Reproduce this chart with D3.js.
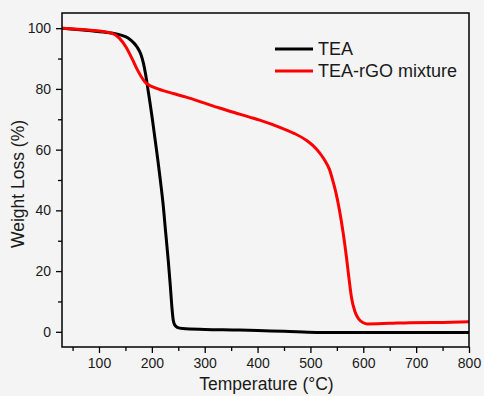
<!DOCTYPE html>
<html>
<head>
<meta charset="utf-8">
<script src="https://cdn.jsdelivr.net/npm/d3@7"></script>
<style>
html,body{margin:0;padding:0;background:#f4f4f4;}
svg{display:block;font-family:"Liberation Sans",Arial,sans-serif;}
</style>
</head>
<body>
<svg id="chart" width="484" height="396"></svg>
<script>
// Data
const teaTemp = [30, 80, 120, 140, 155, 165, 172, 179, 184, 188, 192, 196, 201, 206, 211, 216, 221, 226, 231, 235, 238, 240.5, 243, 248, 258, 300, 366, 400, 450, 512, 600, 700, 800];
const teaWeight = [100, 99.2, 98.5, 97.8, 96.8, 95.3, 93.8, 91.5, 88.5, 85, 80.5, 76, 70, 63.5, 57, 50, 42.5, 33, 23.5, 15, 8, 3.8, 2.3, 1.5, 1.1, 0.8, 0.6, 0.4, 0.2, -0.2, -0.2, -0.2, -0.2];
const rgoTemp = [30, 80, 125, 138, 151, 163, 172, 180, 187, 195, 205, 220, 240, 265, 300, 328, 360, 385, 404, 447, 470, 493, 505, 517, 527, 536, 542, 548, 555, 562, 568, 573, 578, 584, 591, 600, 608, 650, 688, 750, 800];
const rgoWeight = [100, 99.4, 98.3, 96.8, 93.8, 89.8, 86.5, 84, 82.3, 81.2, 80.4, 79.5, 78.5, 77.3, 75.3, 73.7, 72, 70.7, 69.7, 67, 65.3, 63, 61.3, 59, 56.5, 53.5, 50, 46, 40, 32.5, 24.8, 17.5, 11, 6.8, 4.3, 3, 2.6, 2.8, 3, 3.1, 3.3];
const seriesNames = ["TEA", "TEA-rGO mixture"];
const seriesColors = ["#000000", "#ff0000"];
const xTicks = [100, 200, 300, 400, 500, 600, 700, 800];
const xMinor = [50, 150, 250, 350, 450, 550, 650, 750];
const yTicks = [0, 20, 40, 60, 80, 100];
const yMinor = [10, 30, 50, 70, 90];
const xTitle = "Temperature (\u00B0C)";
const yTitle = "Weight Loss (%)";

const svg = d3.select("#chart");
const L = 62, R = 469, T = 13, B = 347;
const x = d3.scaleLinear().domain([30, 800]).range([L, R]);
const y = d3.scaleLinear().domain([-5, 105]).range([B, T]);

svg.append("rect").attr("width", 484).attr("height", 396).attr("fill", "#f4f4f4");

// lines
const line = d3.line().x(d => x(d[0])).y(d => y(d[1])).curve(d3.curveMonotoneX);
const series = [
  teaTemp.map((t, i) => [t, teaWeight[i]]),
  rgoTemp.map((t, i) => [t, rgoWeight[i]])
];
svg.append("defs").append("clipPath").attr("id", "clip")
  .append("rect").attr("x", L).attr("y", T).attr("width", R - L).attr("height", B - T);
svg.append("g").attr("clip-path", "url(#clip)")
  .selectAll("path").data(series).join("path")
  .attr("d", line).attr("fill", "none")
  .attr("stroke", (d, i) => seriesColors[i])
  .attr("stroke-width", 3).attr("stroke-linejoin", "round").attr("stroke-linecap", "round");

// axes
svg.append("g").attr("transform", `translate(0,${B})`)
  .call(d3.axisBottom(x).tickValues(xTicks).tickSize(6).tickPadding(5));
svg.append("g").attr("transform", `translate(0,${B})`)
  .call(d3.axisBottom(x).tickValues(xMinor).tickSize(4).tickFormat(""));
svg.append("g").attr("transform", `translate(${L},0)`)
  .call(d3.axisLeft(y).tickValues(yTicks).tickSize(6).tickPadding(5));
svg.append("g").attr("transform", `translate(${L},0)`)
  .call(d3.axisLeft(y).tickValues(yMinor).tickSize(4).tickFormat(""));

svg.selectAll(".tick line").attr("stroke", "#000").attr("stroke-width", 1.3);
svg.selectAll(".domain").remove();
svg.selectAll(".tick text").attr("font-size", 14).attr("fill", "#1a1a1a")
  .attr("font-family", "Liberation Sans, Arial, sans-serif");

// frame
svg.append("rect").attr("x", L).attr("y", T).attr("width", R - L).attr("height", B - T)
  .attr("fill", "none").attr("stroke", "#000").attr("stroke-width", 1.5);

// titles
svg.append("text").attr("x", (L + R) / 2 + 1).attr("y", 390).attr("text-anchor", "middle")
  .attr("font-size", 17.5).attr("fill", "#1a1a1a").text(xTitle);
svg.append("text").attr("transform", "translate(24,184) rotate(-90)").attr("text-anchor", "middle")
  .attr("font-size", 17.5).attr("fill", "#1a1a1a").text(yTitle);

// legend
const leg = svg.append("g");
seriesNames.forEach((n, i) => {
  const yy = 49 + i * 22;
  leg.append("line").attr("x1", 275).attr("x2", 313).attr("y1", yy).attr("y2", yy)
    .attr("stroke", seriesColors[i]).attr("stroke-width", 3);
  leg.append("text").attr("x", 318).attr("y", yy + 6).attr("font-size", 18)
    .attr("fill", "#1a1a1a").text(n);
});
</script>
</body>
</html>
